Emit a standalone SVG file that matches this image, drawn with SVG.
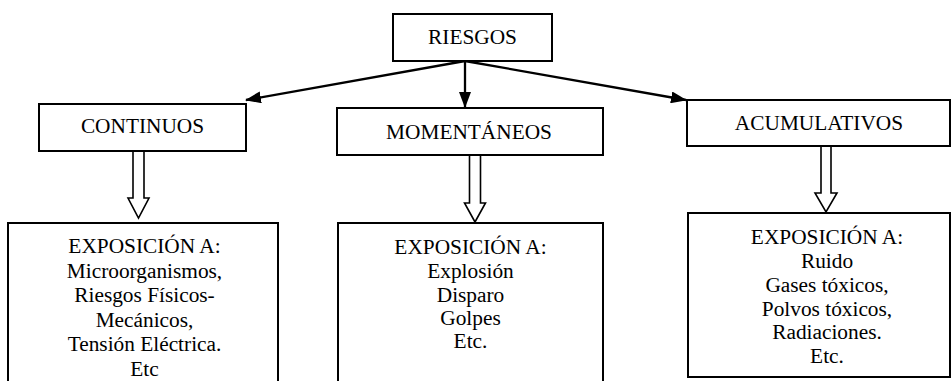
<svg xmlns="http://www.w3.org/2000/svg" width="951" height="381" viewBox="0 0 951 381">
<defs>
<style>
.box{fill:#fff;stroke:#000;stroke-width:2}
.t{font-family:"Liberation Serif","Times New Roman",serif;font-size:21.33px;fill:#000;text-anchor:middle}
.con{stroke:#000;stroke-width:2.3;fill:none}
.hollow{fill:#fff;stroke:#000;stroke-width:1.6;stroke-linejoin:miter}
</style>
<marker id="ah" markerWidth="16" markerHeight="12" viewBox="0 0 16 12" refX="15" refY="6" orient="auto" markerUnits="userSpaceOnUse">
<path d="M0,0 L16,6 L0,12 Z" fill="#000"/>
</marker>
</defs>
<rect width="951" height="381" fill="#fff"/>
<g id="connectors">
<line class="con" x1="465" y1="61" x2="246" y2="100" marker-end="url(#ah)"/>
<line class="con" x1="465" y1="61" x2="465" y2="107" marker-end="url(#ah)"/>
<line class="con" x1="465" y1="61" x2="686" y2="100" marker-end="url(#ah)"/>
<path class="hollow" d="M133,151 L144,151 L144,198 L149,198 L138.5,218 L128,198 L133,198 Z"/>
<path class="hollow" d="M469.5,155 L480.5,155 L480.5,203 L485.5,203 L475,222 L464.5,203 L469.5,203 Z"/>
<path class="hollow" d="M821,146 L831,146 L831,193 L837,193 L826,212 L815,193 L821,193 Z"/>
</g>
<g id="riesgos">
<rect class="box" x="393" y="14" width="159" height="47"/>
<text class="t" x="472.5" y="44">RIESGOS</text>
</g>
<g id="continuos">
<rect class="box" x="39" y="104" width="207" height="47"/>
<text class="t" x="142.5" y="133">CONTINUOS</text>
</g>
<g id="momentaneos">
<rect class="box" x="337" y="108" width="266" height="47"/>
<text class="t" x="469" y="139">MOMENTÁNEOS</text>
</g>
<g id="acumulativos">
<rect class="box" x="687" y="100" width="263" height="46"/>
<text class="t" x="819" y="130">ACUMULATIVOS</text>
</g>
<g id="exp-continuos">
<rect class="box" x="8" y="223" width="270" height="170"/>
<text class="t" x="144.5" y="253">EXPOSICIÓN A:</text>
<text class="t" x="144.5" y="277.5">Microorganismos,</text>
<text class="t" x="144.5" y="302">Riesgos Físicos-</text>
<text class="t" x="144.5" y="326.5">Mecánicos,</text>
<text class="t" x="144.5" y="351">Tensión Eléctrica.</text>
<text class="t" x="144.5" y="375.5">Etc</text>
</g>
<g id="exp-momentaneos">
<rect class="box" x="338" y="223" width="265" height="170"/>
<text class="t" x="470.5" y="254">EXPOSICIÓN A:</text>
<text class="t" x="470.5" y="278">Explosión</text>
<text class="t" x="470.5" y="302">Disparo</text>
<text class="t" x="470.5" y="325">Golpes</text>
<text class="t" x="470.5" y="348">Etc.</text>
</g>
<g id="exp-acumulativos">
<rect class="box" x="688" y="213" width="262" height="164"/>
<text class="t" x="827" y="244">EXPOSICIÓN A:</text>
<text class="t" x="827" y="268">Ruido</text>
<text class="t" x="827" y="291.5">Gases tóxicos,</text>
<text class="t" x="827" y="315.5">Polvos tóxicos,</text>
<text class="t" x="827" y="339">Radiaciones.</text>
<text class="t" x="827" y="363">Etc.</text>
</g>
</svg>
